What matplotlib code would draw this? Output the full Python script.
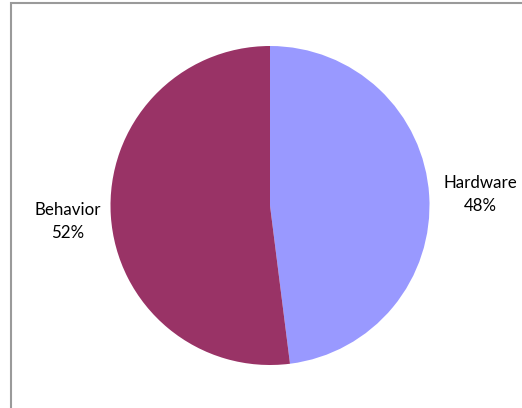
import matplotlib.pyplot as plt
from matplotlib.patches import Rectangle

labels = ['Hardware', 'Behavior']
shares = [48, 52]
colors = ['#9999FF', '#993366']

W, H = 522, 408
fig = plt.figure(figsize=(W / 100, H / 100), dpi=100)

# chart frame (only left and top edges fall inside the image)
fig.patches.append(Rectangle((10.5 / W, -0.1), 1.2, (H - 3.5) / H + 0.1,
                             transform=fig.transFigure, fill=False,
                             edgecolor='#9a9a9a', linewidth=1.5))

cx, cy, r = 270, 205.5, 159.5
ax = fig.add_axes([(cx - r) / W, (H - cy - r) / H, 2 * r / W, 2 * r / H])
ax.pie(shares, colors=colors, startangle=90, counterclock=False, radius=1,
       wedgeprops=dict(linewidth=0))
ax.set_xlim(-1, 1)
ax.set_ylim(-1, 1)
ax.set_aspect('equal')
ax.axis('off')

label_pos = [(1.32, 0.07), (-1.27, -0.1)]
for name, val, (x, y) in zip(labels, shares, label_pos):
    ax.text(x, y, f'{name}\n{val}%', ha='center', va='center',
            fontsize=12.2, family='Lato', linespacing=1.5, clip_on=False)

fig.savefig('out.png', dpi=100)
